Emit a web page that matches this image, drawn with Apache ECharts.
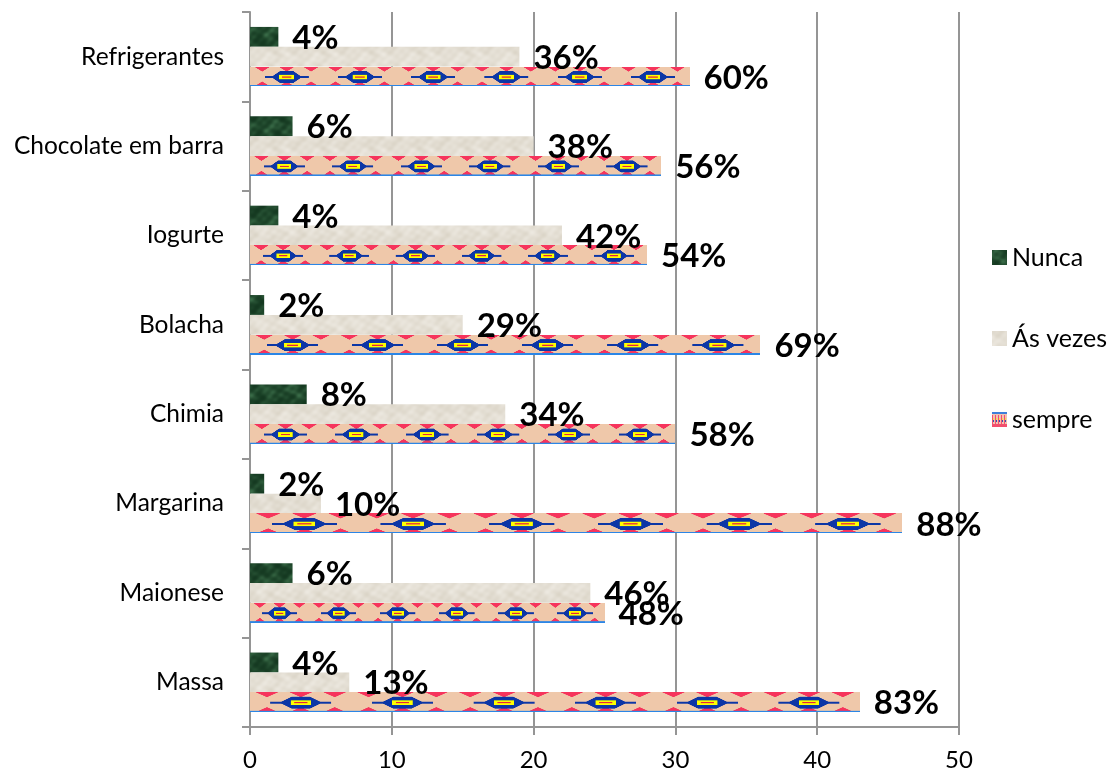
<!DOCTYPE html>
<html>
<head>
<meta charset="utf-8" />
<title>Consumo</title>
<script src="https://cdn.jsdelivr.net/npm/echarts@6/dist/echarts.min.js"></script>
<style>
  html, body { margin: 0; padding: 0; background: #fff; }
  #main { width: 1110px; height: 775px; }
</style>
</head>
<body>
<div id="main"></div>
<script>
// categories bottom -> top (category axis starts at the bottom)
var categories = ['Massa', 'Maionese', 'Margarina', 'Chimia', 'Bolacha', 'Iogurte', 'Chocolate em barra', 'Refrigerantes'];
var seriesNames = ['Nunca', 'Ás vezes', 'sempre'];

var nunca   = [2, 3, 1, 4, 1, 2, 3, 2];
var asVezes = [7, 24, 5, 18, 15, 22, 20, 19];
var sempre  = [43, 25, 46, 30, 36, 28, 29, 31];

var nuncaLabels   = ['4%', '6%', '2%', '8%', '2%', '4%', '6%', '4%'];
var asVezesLabels = ['13%', '46%', '10%', '34%', '29%', '42%', '38%', '36%'];
var sempreLabels  = ['83%', '48%', '88%', '58%', '69%', '54%', '56%', '60%'];

var xTicks = { min: 0, max: 50, interval: 10 };

// ---- textures ----
function noiseTexture(w, h, c1, c2, fn) {
    var c = document.createElement('canvas');
    c.width = w; c.height = h;
    var g = c.getContext('2d');
    var img = g.createImageData(w, h);
    for (var y = 0; y < h; y++) {
        for (var x = 0; x < w; x++) {
            var t = Math.max(0, Math.min(1, fn(x, y)));
            var i = (y * w + x) * 4;
            img.data[i]     = c1[0] + (c2[0] - c1[0]) * t;
            img.data[i + 1] = c1[1] + (c2[1] - c1[1]) * t;
            img.data[i + 2] = c1[2] + (c2[2] - c1[2]) * t;
            img.data[i + 3] = 255;
        }
    }
    g.putImageData(img, 0, 0);
    return c;
}

// blotchy marble-like value, tiles on a 2*PI/0.125 grid
function blotch(x, y) {
    var k = Math.PI * 2 / 48;
    return (Math.sin(x * k * 2 + 1.3 * Math.sin(y * k * 3)) +
            Math.sin(y * k * 2 + 1.1 * Math.sin(x * k * 3)) +
            0.6 * Math.sin((x + y) * k * 5) +
            0.5 * Math.sin((x - 2 * y) * k * 3)) / 3.1;
}

var greenTex = noiseTexture(48, 48, [20, 56, 32], [58, 108, 72], function (x, y) {
    return Math.pow(0.5 + 0.5 * blotch(x, y), 1.8);
});
var beigeTex = noiseTexture(48, 48, [212, 205, 190], [238, 234, 226], function (x, y) {
    return 0.6 + 0.35 * blotch(x + 7, y + 19);
});

// stretched stripe for "sempre": 6 repeats per bar
function sempreStrip(periods) {
    var P = 80, H = 20, S = 3;
    var c = document.createElement('canvas');
    c.width = P * periods * S; c.height = H * S;
    var g = c.getContext('2d');
    g.scale(S, S);
    g.fillStyle = '#efc8aa';
    g.fillRect(0, 0, P * periods, H);
    for (var k = 0; k < periods; k++) {
        var ox = k * P;
        g.fillStyle = '#f6345c';
        [1 / 6, 1 / 2, 5 / 6].forEach(function (f) {
            var cx = ox + f * P, hw = 0.11 * P;
            g.beginPath(); g.moveTo(cx - hw, 0); g.lineTo(cx + hw, 0); g.lineTo(cx, 5); g.closePath(); g.fill();
            g.beginPath(); g.moveTo(cx - hw, H); g.lineTo(cx + hw, H); g.lineTo(cx, H - 5); g.closePath(); g.fill();
        });
        var cx = ox + P / 2, cy = H / 2 + 0.5;
        g.fillStyle = '#0c36a6';
        g.fillRect(cx - 0.3 * P, cy - 1, 0.6 * P, 2);
        g.beginPath();
        g.moveTo(cx - 0.21 * P, cy);
        g.lineTo(cx - 0.09 * P, cy - 6);
        g.lineTo(cx + 0.09 * P, cy - 6);
        g.lineTo(cx + 0.21 * P, cy);
        g.lineTo(cx + 0.09 * P, cy + 6);
        g.lineTo(cx - 0.09 * P, cy + 6);
        g.closePath(); g.fill();
        g.fillStyle = '#ffff00';
        g.fillRect(cx - 0.1 * P, cy - 2.3, 0.2 * P, 4.6);
        g.fillStyle = '#e8243c';
        g.fillRect(cx - 0.065 * P, cy - 0.6, 0.13 * P, 1.2);
    }
    g.fillStyle = '#2b86e6';
    g.fillRect(0, H - 1.4, P * periods, 1.4);
    return c;
}
var sempreImg = sempreStrip(6);

function iconFromPattern(src) {
    var c = document.createElement('canvas');
    c.width = 15; c.height = 15;
    var g = c.getContext('2d');
    g.fillStyle = g.createPattern(src, 'repeat');
    g.fillRect(0, 0, 15, 15);
    return 'image://' + c.toDataURL();
}
function sempreIcon() {
    var c = document.createElement('canvas');
    c.width = 15; c.height = 15;
    var g = c.getContext('2d');
    g.fillStyle = '#f3c2b0'; g.fillRect(0, 0, 15, 15);
    g.fillStyle = '#3f7fd9'; g.fillRect(0, 0, 15, 2);
    for (var x = 0; x < 15; x += 3) {
        g.fillStyle = '#f2506e'; g.fillRect(x, 3, 1, 9);
        g.fillStyle = '#f7e24a'; g.fillRect(x + 1, 6, 1, 2);
        g.fillStyle = '#3450b8'; g.fillRect(x + 1, 8, 1, 2);
    }
    g.fillStyle = '#f2506e'; g.fillRect(0, 12, 15, 3);
    return 'image://' + c.toDataURL();
}

// ---- bars drawn via custom series on the chart's own axes ----
var FONT = 'Lato, "Open Sans", sans-serif';

function barRenderer(slot, fill, labels, stretchImage) {
    return function (params, api) {
        var val = api.value(0);
        var idx = api.value(1);
        var p0 = api.coord([0, idx]);
        var p1 = api.coord([val, idx]);
        var band = api.size([0, 1])[1];
        var h = band * 0.222;
        var y = p0[1] - 1.5 * h + slot * h;
        var w = p1[0] - p0[0];
        var bar = stretchImage
            ? { type: 'image', style: { image: stretchImage, x: p0[0], y: y, width: w, height: h } }
            : { type: 'rect', shape: { x: p0[0], y: y, width: w, height: h }, style: { fill: fill } };
        return {
            type: 'group',
            children: [
                bar,
                {
                    type: 'text', z2: 100,
                    style: {
                        text: labels[params.dataIndex],
                        x: p1[0] + 14, y: y + h / 2 + 1.5,
                        align: 'left', verticalAlign: 'middle',
                        font: 'bold 33px ' + FONT, fill: '#000'
                    }
                }
            ]
        };
    };
}

function toData(arr) { return arr.map(function (v, i) { return [v, i]; }); }

var chart = echarts.init(document.getElementById('main'));
chart.setOption({
    animation: false,
    backgroundColor: '#fff',
    textStyle: { fontFamily: FONT },
    grid: { left: 250, right: 151, top: 12, bottom: 48 },
    legend: {
        orient: 'vertical',
        left: 992, top: 245, padding: 0,
        itemWidth: 15, itemHeight: 15, itemGap: 56,
        textStyle: { fontFamily: FONT, fontSize: 25, lineHeight: 24, color: '#000' },
        data: [
            { name: seriesNames[0], icon: iconFromPattern(greenTex) },
            { name: seriesNames[1], icon: iconFromPattern(beigeTex) },
            { name: seriesNames[2], icon: sempreIcon() }
        ]
    },
    xAxis: {
        type: 'value',
        min: xTicks.min, max: xTicks.max, interval: xTicks.interval,
        axisLine: { show: true, lineStyle: { color: '#959595', width: 2 } },
        axisTick: { show: true, length: 8, lineStyle: { color: '#959595', width: 2 } },
        splitLine: { show: true, lineStyle: { color: '#959595', width: 2 } },
        axisLabel: { fontFamily: FONT, fontSize: 24, color: '#000', margin: 21 }
    },
    yAxis: {
        type: 'category',
        data: categories,
        axisLine: { show: true, lineStyle: { color: '#959595', width: 2 } },
        axisTick: { show: true, length: 8, lineStyle: { color: '#959595', width: 2 } },
        axisLabel: { fontFamily: FONT, fontSize: 24.5, color: '#000', margin: 26 }
    },
    series: [
        {
            name: seriesNames[0], type: 'custom',
            itemStyle: { color: '#1d4d2c' },
            encode: { x: 0, y: 1 },
            renderItem: barRenderer(0, { image: greenTex, repeat: 'repeat' }, nuncaLabels),
            data: toData(nunca)
        },
        {
            name: seriesNames[1], type: 'custom',
            itemStyle: { color: '#e2dccf' },
            encode: { x: 0, y: 1 },
            renderItem: barRenderer(1, { image: beigeTex, repeat: 'repeat' }, asVezesLabels),
            data: toData(asVezes)
        },
        {
            name: seriesNames[2], type: 'custom',
            itemStyle: { color: '#efc8aa' },
            encode: { x: 0, y: 1 },
            renderItem: barRenderer(2, null, sempreLabels, sempreImg),
            data: toData(sempre)
        }
    ]
});
</script>
</body>
</html>
